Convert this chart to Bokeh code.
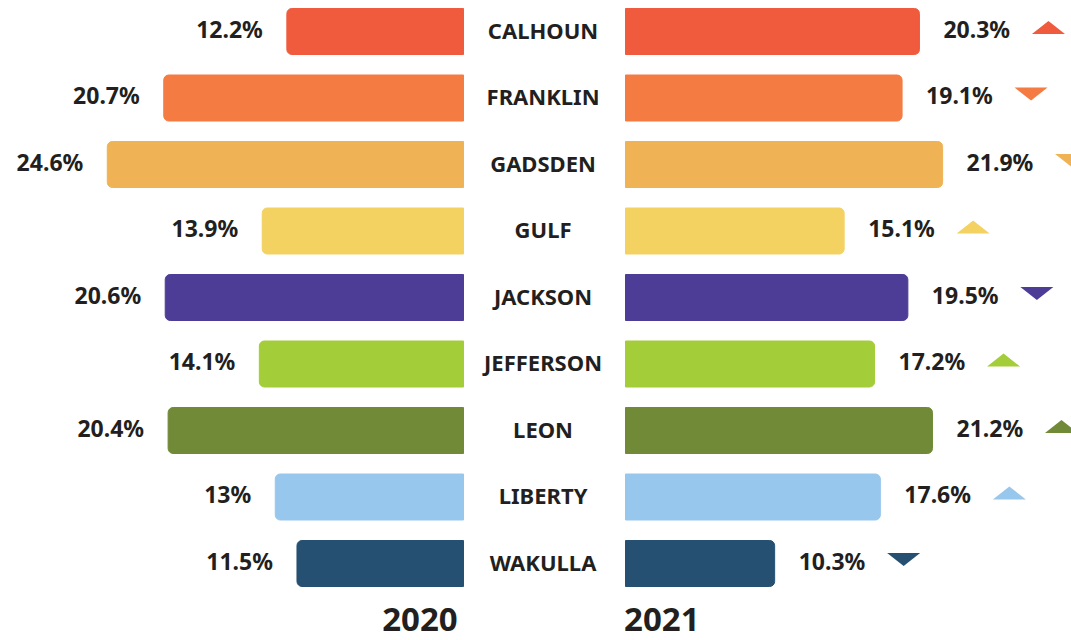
from bokeh.plotting import figure
from bokeh.models import ColumnDataSource, Range1d
from bokeh.core.properties import value
from bokeh.embed import file_html
from bokeh.resources import INLINE

counties = ["CALHOUN", "FRANKLIN", "GADSDEN", "GULF", "JACKSON",
            "JEFFERSON", "LEON", "LIBERTY", "WAKULLA"]
v2020 = [12.2, 20.7, 24.6, 13.9, 20.6, 14.1, 20.4, 13.0, 11.5]
v2021 = [20.3, 19.1, 21.9, 15.1, 19.5, 17.2, 21.2, 17.6, 10.3]
lab2020 = ["12.2%", "20.7%", "24.6%", "13.9%", "20.6%", "14.1%", "20.4%", "13%", "11.5%"]
lab2021 = ["20.3%", "19.1%", "21.9%", "15.1%", "19.5%", "17.2%", "21.2%", "17.6%", "10.3%"]
colors = ["#F05A3D", "#F47B42", "#EFB355", "#F3D262", "#4D3D96",
          "#A3CD39", "#708A38", "#97C7EC", "#265072"]
years = ["2020", "2021"]

W, H = 1071, 640
PX = 14.48          # pixels per percentage point
ROW = 66.5          # pixels per row
G = 81 / PX         # half gap between the two bar groups
x0 = -544 / PX
y_top = 31 / ROW

p = figure(width=W, height=H, output_backend="svg", toolbar_location=None,
           x_range=Range1d(x0, x0 + W / PX), y_range=Range1d(y_top - H / ROW, y_top),
           min_border=0)
p.axis.visible = False
p.grid.visible = False
p.outline_line_color = None
p.background_fill_color = "white"
p.border_fill_color = "white"

n = len(counties)
ys = [-i for i in range(n)]
ink = "#231F20"
font = value("Noto Sans")

left_src = ColumnDataSource(dict(y=ys, left=[-G - v for v in v2020], right=[-G] * n,
                                 color=colors))
right_src = ColumnDataSource(dict(y=ys, left=[G] * n, right=[G + v for v in v2021],
                                  color=colors))
bh = 46 / ROW
p.hbar(y="y", left="left", right="right", height=bh, color="color", source=left_src,
       border_radius=(5, 0, 0, 5))
p.hbar(y="y", left="left", right="right", height=bh, color="color", source=right_src,
       border_radius=(0, 5, 5, 0))

# county names
p.text(x=[-0.1] * n, y=[y + 0.03 for y in ys], text=counties, text_align="center",
       text_baseline="middle", text_font=font, text_font_style="bold",
       text_font_size="22px", text_color=ink)

# value labels
gap_txt = 24 / PX
p.text(x=[-G - v - gap_txt for v in v2020], y=[y + 0.04 for y in ys], text=lab2020,
       text_align="right", text_baseline="middle", text_font=font,
       text_font_style="bold", text_font_size="23px", text_color=ink)
lab_x = [G + v + gap_txt for v in v2021]
p.text(x=lab_x, y=[y + 0.04 for y in ys], text=lab2021,
       text_align="left", text_baseline="middle", text_font=font,
       text_font_style="bold", text_font_size="23px", text_color=ink)

# change triangles
hw, hh = 16.5 / PX, 6.5 / ROW
txs, tys = [], []
for i in range(n):
    cx = lab_x[i] + 105 / PX
    cy = ys[i] + 0.06
    up = v2021[i] > v2020[i]
    txs.append([cx - hw, cx + hw, cx])
    if up:
        tys.append([cy - hh, cy - hh, cy + hh])
    else:
        tys.append([cy + hh, cy + hh, cy - hh])
p.patches(xs=txs, ys=tys, fill_color=colors, line_color=None)

# year labels
yl = -(n - 1) - 0.84
p.text(x=[-G - 0.4], y=[yl], text=[years[0]], text_align="right", text_baseline="middle",
       text_font=font, text_font_style="bold", text_font_size="33px", text_color=ink)
p.text(x=[G - 0.1], y=[yl], text=[years[1]], text_align="left", text_baseline="middle",
       text_font=font, text_font_style="bold", text_font_size="33px", text_color=ink)

open("out.html", "w").write(file_html(p, INLINE))
